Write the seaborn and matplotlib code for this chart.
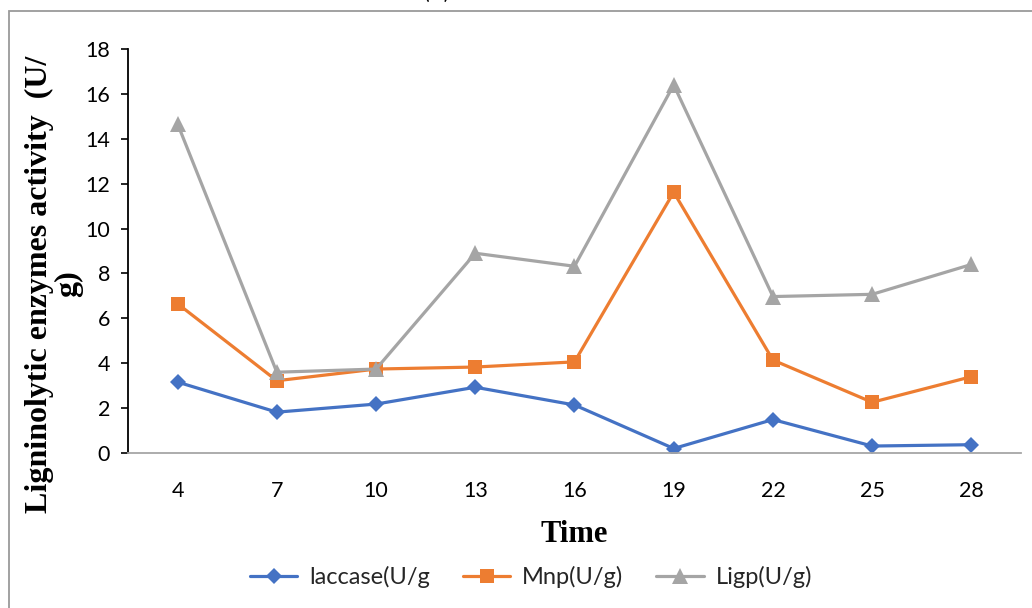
import matplotlib
matplotlib.use("Agg")
import matplotlib.pyplot as plt
from matplotlib.patches import Rectangle
import seaborn as sns
import pandas as pd

# Sampling days
time_days = [4, 7, 10, 13, 16, 19, 22, 25, 28]

# Enzyme activities (U/g)
laccase = [3.16, 1.82, 2.18, 2.93, 2.14, 0.20, 1.49, 0.31, 0.37]
mnp = [6.65, 3.22, 3.74, 3.83, 4.06, 11.62, 4.14, 2.26, 3.40]
ligp = [14.66, 3.60, 3.74, 8.90, 8.32, 16.40, 6.97, 7.07, 8.40]

series_names = ["laccase(U/g", "Mnp(U/g)", "Ligp(U/g)"]
yticks = [0, 2, 4, 6, 8, 10, 12, 14, 16, 18]

df = pd.DataFrame({
    "Time": time_days * 3,
    "Activity": laccase + mnp + ligp,
    "Enzyme": [series_names[0]] * len(time_days)
    + [series_names[1]] * len(time_days)
    + [series_names[2]] * len(time_days),
})

sns.set_theme(style="white")
plt.rcParams["font.family"] = ["Lato", "DejaVu Sans"]

fig = plt.figure(figsize=(10.32, 6.08), dpi=100)
ax = fig.add_axes([128 / 1032, 1 - 453 / 608, (1021 - 128) / 1032, (453 - 49) / 608])

palette = {series_names[0]: "#4472C4", series_names[1]: "#ED7D31", series_names[2]: "#A5A5A5"}
markers = {series_names[0]: "D", series_names[1]: "s", series_names[2]: "^"}
sizes = {series_names[0]: 8.5, series_names[1]: 10.5, series_names[2]: 11}

for name in series_names:
    sub = df[df["Enzyme"] == name]
    sns.lineplot(data=sub, x="Time", y="Activity", ax=ax, color=palette[name],
                 marker=markers[name], markersize=sizes[name], markeredgewidth=0,
                 linewidth=2.3, label=name, legend=False)

ax.set_xlim(2.5, 29.5)
ax.set_ylim(0, 18)
ax.set_xticks(time_days)
ax.set_xticklabels([str(t) for t in time_days])
ax.set_yticks(yticks)
ax.set_yticklabels([str(t) for t in yticks])

for s in ["top", "right"]:
    ax.spines[s].set_visible(False)
ax.spines["left"].set_color("black")
ax.spines["left"].set_linewidth(1.3)
ax.spines["bottom"].set_color("#A6A6A6")
ax.spines["bottom"].set_linewidth(1.3)

ax.tick_params(axis="y", which="both", direction="out", length=5, width=1.2,
               color="black", labelsize=15.5, pad=8, left=True)
ax.tick_params(axis="x", which="both", length=0, labelsize=15.5, pad=20)
for lab in ax.get_xticklabels() + ax.get_yticklabels():
    lab.set_color("black")

ax.set_xlabel("Time", fontsize=22, fontweight="bold", family="Liberation Serif",
              labelpad=14, color="black")
ax.set_ylabel("")
fig.text(54 / 1032, 1 - 284 / 608, "Ligninolytic enzymes activity  (U/\ng)",
         rotation=90, ha="center", va="center", multialignment="center",
         fontsize=23, fontweight="bold", family="Liberation Serif",
         color="black", linespacing=1.0)

handles, labels = ax.get_legend_handles_labels()
fig.legend(handles, labels, loc="center", bbox_to_anchor=(531 / 1032, 1 - 577 / 608),
           ncol=3, frameon=False, fontsize=17, handlelength=2.0,
           columnspacing=1.4, handletextpad=0.5)

# Panel tag, partly cut at the top edge
fig.text(437 / 1032, 1 - 3 / 608, "(A)", ha="center", va="bottom", fontsize=15, color="black")

# Outer frame
fig.patches.append(Rectangle((9 / 1032, -0.1), 1.2, 1 - 11 / 608 + 0.1,
                             transform=fig.transFigure, fill=False,
                             edgecolor="#9A9A9A", linewidth=1.3))

fig.savefig("out.png", dpi=100, facecolor="white")
